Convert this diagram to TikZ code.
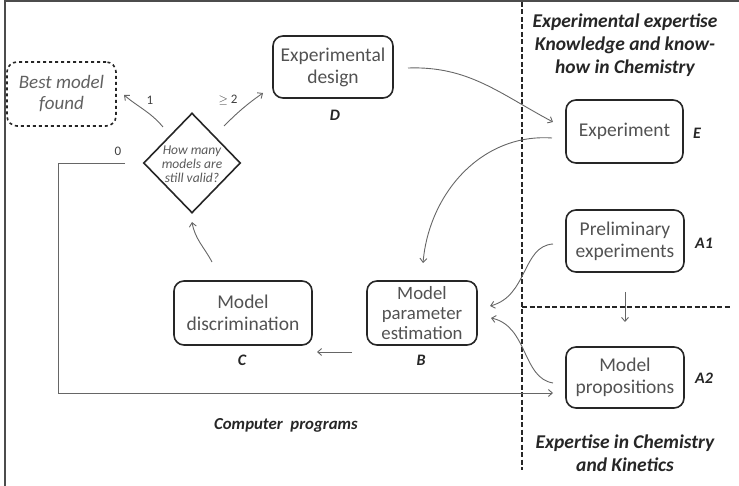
\documentclass[tikz,border=0pt]{standalone}
\usepackage{fontspec}
\setmainfont{Carlito}
\usetikzlibrary{shapes.geometric,arrows.meta}
\begin{document}
\begin{tikzpicture}[x=1pt,y=-1pt,
 box/.style={draw=black!85,line width=1.6pt,rounded corners=10pt,align=center,text=black!68,font=\fontsize{19.5}{22}\selectfont,inner sep=0pt},
 conn/.style={draw=black!60,line width=0.9pt,-{Straight Barb[length=4pt,width=7pt]}},
 lab/.style={font=\fontsize{16}{18}\selectfont\bfseries\itshape,text=black!85},
 num/.style={font=\fontsize{13}{15}\selectfont,text=black!75},
 title/.style={font=\fontsize{19.5}{23}\selectfont\bfseries\itshape,text=black!85,align=center},
 sep/.style={draw=black!85,line width=1.6pt,dash pattern=on 5pt off 2.5pt},
]
\useasboundingbox (0,0) rectangle (739,486);
\draw[black!70,line width=1.5pt] (5,486) -- (5,1) -- (739,1);
% separators
\draw[sep] (522,2) -- (522,470);
\draw[sep] (522,307) -- (730,307);
% nodes
\node[box,dashed,text=black!62,font=\fontsize{19}{21}\selectfont\itshape,minimum width=109pt,minimum height=64pt] (best) at (61.5,94) {Best model\\found};
\node[diamond,draw=black!85,line width=1.6pt,inner sep=0pt,minimum width=97pt,minimum height=100pt] (dia) at (192,163) {};
\node[align=center,text=black!65,font=\fontsize{13.5}{14}\selectfont\itshape,inner sep=0pt] (diat) at (192,164) {How many\\models are\\still valid?};
\node[box,minimum width=120pt,minimum height=62pt] (D) at (333,67) {Experimental\\design};
\node[box,minimum width=117pt,minimum height=63pt] (E) at (624.5,131.5) {Experiment};
\node[box,minimum width=118pt,minimum height=62pt] (A1) at (625,241) {Preliminary\\experiments};
\node[box,minimum width=118pt,minimum height=61pt] (A2) at (625,377.5) {Model\\propositions};
\node[box,font=\fontsize{18.8}{20}\selectfont,minimum width=110pt,minimum height=64pt] (B) at (422,313) {Model\\parameter\\estimation};
\node[box,minimum width=138pt,minimum height=64pt] (C) at (243,313) {Model\\discrimination};
% letter labels
\node[lab] (lD) at (335,115) {D};
\node[lab] (lC) at (242,360) {C};
\node[lab] (lB) at (421,360) {B};
\node[lab] (lE) at (697,133) {E};
\node[lab] (lA1) at (704,243) {A1};
\node[lab] (lA2) at (704,378) {A2};
% titles
\node[title] (t1) at (625,45) {Experimental expertise\\Knowledge and know-\\how in Chemistry};
\node[title] (t2) at (625,453) {Expertise in Chemistry\\and Kinetics};
\node[title,font=\fontsize{16.8}{20}\selectfont\bfseries\itshape] (t3) at (286,425) {Computer\ \ programs};
% numbers
\node[num] (n1) at (150,100) {1};
\node[num] (n2) at (228,100) {$\geq$ 2};
\node[num] (n0) at (118,151) {0};
% coordinates
\coordinate (pDs) at (408,68);
\coordinate (pEe) at (553,122);
\coordinate (pEs) at (552,138);
\coordinate (pBn) at (423,263);
\coordinate (pA1s) at (553,244);
\coordinate (pB1) at (490,306);
\coordinate (pA2s) at (553,383);
\coordinate (pB2) at (491,318);
\coordinate (pA1b) at (625,292);
\coordinate (pA2t) at (625,322);
\coordinate (pCs) at (212,262);
\coordinate (pDia) at (192,222);
\coordinate (pBw) at (352,352);
\coordinate (pCe) at (317,352);
\coordinate (pd1) at (163,127);
\coordinate (pbest) at (124,95);
\coordinate (pd2) at (224,126);
\coordinate (pD) at (263,93);
\coordinate (p0) at (125,163);
\coordinate (pc1) at (58,163);
\coordinate (pc2) at (58,393);
\coordinate (pA2w) at (553,393);
% connectors
\draw[conn] (pDs) to[out=2,in=152] (pEe);
\draw[conn] (pEs) to[out=176,in=85] (pBn);
\draw[conn] (pA1s) .. controls (522,246) and (528,296) .. (pB1);
\draw[conn] (pA2s) .. controls (522,378) and (528,326) .. (pB2);
\draw[conn] (pA1b) -- (pA2t);
\draw[conn] (pCs) to[out=118,in=-80] (pDia);
\draw[conn] (pBw) -- (pCe);
\draw[conn] (pd1) to[out=130,in=-40] (pbest);
\draw[conn] (pd2) to[out=45,in=-145] (pD);
\draw[conn] (p0) -- (pc1) -- (pc2) -- (pA2w);
\end{tikzpicture}
\end{document}
